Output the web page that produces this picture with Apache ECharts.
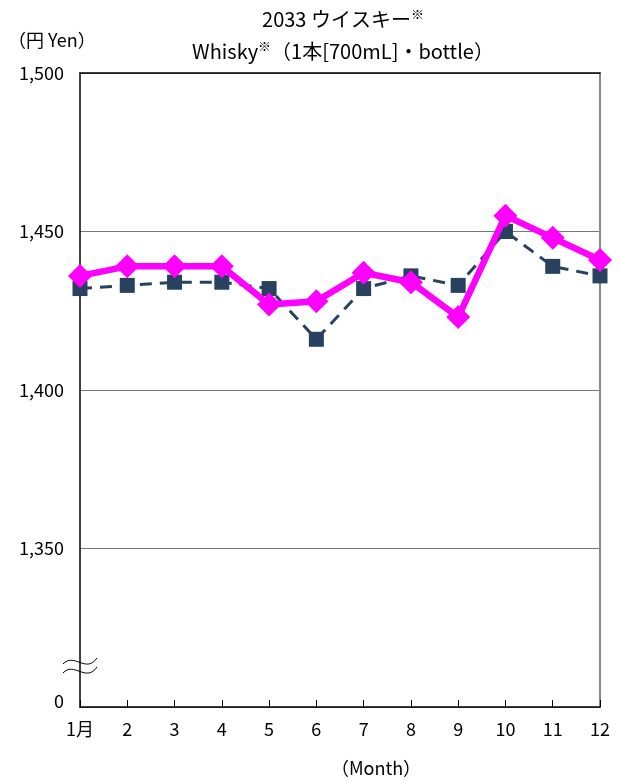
<!DOCTYPE html>
<html>
<head>
<meta charset="utf-8">
<script src="https://cdn.jsdelivr.net/npm/echarts@6/dist/echarts.min.js"></script>
<style>
  html, body { margin: 0; padding: 0; background: #fff; }
  #chart { width: 621px; height: 782px; }
</style>
</head>
<body>
<div id="chart"></div>
<script>
// Monthly whisky price (yen per 700mL bottle)
const months = ['1月', '2', '3', '4', '5', '6', '7', '8', '9', '10', '11', '12'];
const seriesNavy = [1432, 1433, 1434, 1434, 1432, 1416, 1432, 1436, 1433, 1450, 1439, 1436];
const seriesMagenta = [1436, 1439, 1439, 1439, 1427, 1428, 1437, 1434, 1423, 1455, 1448, 1441];
const yMin = 1300, yMax = 1500, yStep = 50;

const FONT = '"Noto Sans CJK JP", "Noto Sans", sans-serif';
const chart = echarts.init(document.getElementById('chart'), null, { renderer: 'canvas' });

// one "~" stroke of the axis break mark
function wave(dy) {
  return {
    type: 'bezierCurve',
    shape: { x1: 0, y1: 8 + dy, cpx1: 11, cpy1: -4 + dy, cpx2: 23, cpy2: 18 + dy, x2: 34, y2: 2 + dy },
    style: { fill: null, stroke: '#000', lineWidth: 1 }
  };
}

const supStyle = { fontSize: 13, padding: [0, 0, 10, 0], fontFamily: FONT, color: '#000' };

const option = {
  backgroundColor: '#fff',
  animation: false,
  textStyle: { fontFamily: FONT },
  grid: { left: 80, right: 21, top: 73, bottom: 75 },
  title: [
    {
      text: '2033 ウイスキー{sup|※}',
      left: 338, top: 3, textAlign: 'center',
      textStyle: { fontFamily: FONT, fontSize: 20, fontWeight: 'normal', color: '#000', rich: { sup: supStyle } }
    },
    {
      text: 'Whisky{sup|※}（1本[700mL]・bottle）',
      left: 338, top: 35, textAlign: 'center',
      textStyle: { fontFamily: FONT, fontSize: 20, fontWeight: 'normal', color: '#000', rich: { sup: supStyle } }
    }
  ],
  xAxis: [
    {
      type: 'category', data: months, boundaryGap: false, position: 'bottom',
      axisLine: { lineStyle: { color: '#000', width: 1.5 } },
      axisTick: { show: true, inside: true, length: 7, lineStyle: { color: '#000' } },
      axisLabel: { color: '#000', fontSize: 18, margin: 13, fontFamily: FONT },
      name: '（Month）', nameLocation: 'middle', nameGap: 52,
      nameTextStyle: { color: '#000', fontSize: 18, fontFamily: FONT, padding: [0, 0, 0, 72] }
    },
    {
      type: 'category', data: months, boundaryGap: false, position: 'top',
      axisLine: { lineStyle: { color: '#000', width: 1.5 } },
      axisTick: { show: false }, axisLabel: { show: false }
    }
  ],
  yAxis: [
    {
      type: 'value', min: yMin, max: yMax, interval: yStep,
      axisLine: { show: true, lineStyle: { color: '#000', width: 1.5 } },
      axisTick: { show: false },
      splitLine: { show: true, lineStyle: { color: '#777', width: 1 } },
      axisLabel: {
        color: '#000', fontSize: 18, margin: 16, fontFamily: FONT,
        formatter: v => v === yMin ? '{z|0}' : v.toLocaleString('en-US'),
        rich: { z: { fontSize: 18, fontFamily: FONT, color: '#000', padding: [0, 0, 12, 0] } }
      }
    },
    {
      type: 'value', min: yMin, max: yMax, interval: yStep, position: 'right',
      axisLine: { show: true, lineStyle: { color: '#888', width: 2 } },
      axisTick: { show: false }, axisLabel: { show: false }, splitLine: { show: false }
    }
  ],
  series: [
    {
      type: 'line', data: seriesNavy, z: 2,
      symbol: 'rect', symbolSize: 15,
      itemStyle: { color: '#27415F' },
      lineStyle: { color: '#27415F', width: 3, type: [12, 8] }
    },
    {
      type: 'line', data: seriesMagenta, z: 3,
      symbol: 'diamond', symbolSize: 24,
      itemStyle: { color: '#FF00FF' },
      lineStyle: { color: '#FF00FF', width: 6.5 }
    }
  ],
  graphic: [
    // unit caption above the value axis
    {
      type: 'text', x: 8, y: 31,
      style: { text: '（円 Yen）', font: '18px ' + FONT, fill: '#000' }
    },
    // axis break mark near the bottom of the value axis
    { type: 'group', x: 63, y: 656, z: 10, children: [wave(0), wave(9)] }
  ]
};

chart.setOption(option);
</script>
</body>
</html>
